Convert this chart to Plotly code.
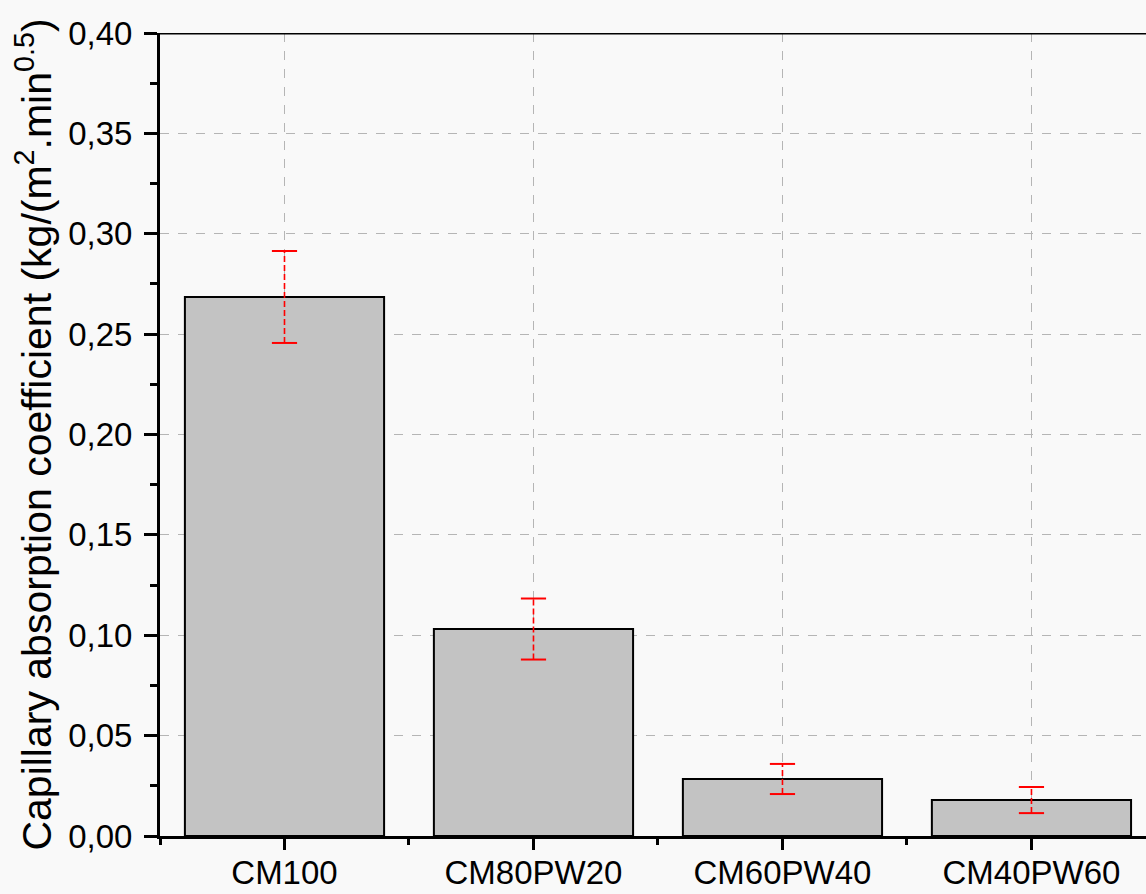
import plotly.graph_objects as go

# Sample mixes and their capillary absorption coefficients
categories = ["CM100", "CM80PW20", "CM60PW40", "CM40PW60"]
coef_mean = [0.2685, 0.1031, 0.0284, 0.0179]
coef_err = [0.0229, 0.0152, 0.0075, 0.0065]
y_ticks = [0.00, 0.05, 0.10, 0.15, 0.20, 0.25, 0.30, 0.35, 0.40]

x_pos = list(range(len(categories)))
font_family = "Liberation Sans, Arial, sans-serif"

fig = go.Figure()

fig.add_trace(go.Bar(
    x=x_pos, y=coef_mean, width=0.8,
    marker=dict(color="#c3c3c3", line=dict(color="black", width=2)),
    showlegend=False, hoverinfo="skip",
))

# dashed red error stems with solid caps
for xi, m, e in zip(x_pos, coef_mean, coef_err):
    fig.add_trace(go.Scatter(
        x=[xi, xi], y=[m - e, m + e], mode="lines",
        line=dict(color="red", width=1.6, dash="6px,3px"),
        showlegend=False, hoverinfo="skip",
    ))
fig.add_trace(go.Scatter(
    x=x_pos + x_pos,
    y=[m + e for m, e in zip(coef_mean, coef_err)] + [m - e for m, e in zip(coef_mean, coef_err)],
    mode="markers",
    marker=dict(symbol="line-ew", size=18, line=dict(color="red", width=2)),
    showlegend=False, hoverinfo="skip",
))

x_max = 3.46
fig.add_shape(type="line", xref="x", yref="y", x0=-0.5, x1=x_max, y0=0.40, y1=0.40,
              line=dict(color="black", width=3), layer="above")

fig.update_layout(
    width=1146, height=894,
    margin=dict(l=160, r=0, t=33, b=58),
    paper_bgcolor="#f9f9f9", plot_bgcolor="#f9f9f9",
    separators=", ",
    font=dict(family=font_family, size=33, color="black"),
    bargap=0.2,
)

fig.update_xaxes(
    range=[-0.5, x_max], automargin=False,
    tickmode="array", tickvals=x_pos, ticktext=categories,
    tickfont=dict(size=33),
    ticks="outside", ticklen=11, tickwidth=3, tickcolor="black",
    ticklabelstandoff=-6,
    showline=True, linecolor="black", linewidth=3,
    showgrid=True, gridcolor="#b5b5b5", gridwidth=1, griddash="dash",
    zeroline=False,
    minor=dict(tickvals=[-0.5, 0.5, 1.5, 2.5, 3.5], ticks="outside", ticklen=6,
               tickwidth=3, tickcolor="black", showgrid=False),
)

fig.update_yaxes(
    range=[0, 0.40], automargin=False,
    tickmode="array", tickvals=y_ticks, tickformat=".2f",
    tickfont=dict(size=33),
    ticks="outside", ticklen=13, tickwidth=3, tickcolor="black",
    ticklabelstandoff=5,
    showline=True, linecolor="black", linewidth=3,
    showgrid=True, gridcolor="#b5b5b5", gridwidth=1, griddash="dash",
    zeroline=False,
    minor=dict(tickvals=[0.025, 0.075, 0.125, 0.175, 0.225, 0.275, 0.325, 0.375],
               ticks="outside", ticklen=7, tickwidth=3, tickcolor="black", showgrid=False),
    title=dict(text="Capillary absorption coefficient (kg/(m<sup>2</sup>.min<sup>0.5</sup>)",
               font=dict(size=41), standoff=4),
)

fig.write_html("out.html")
